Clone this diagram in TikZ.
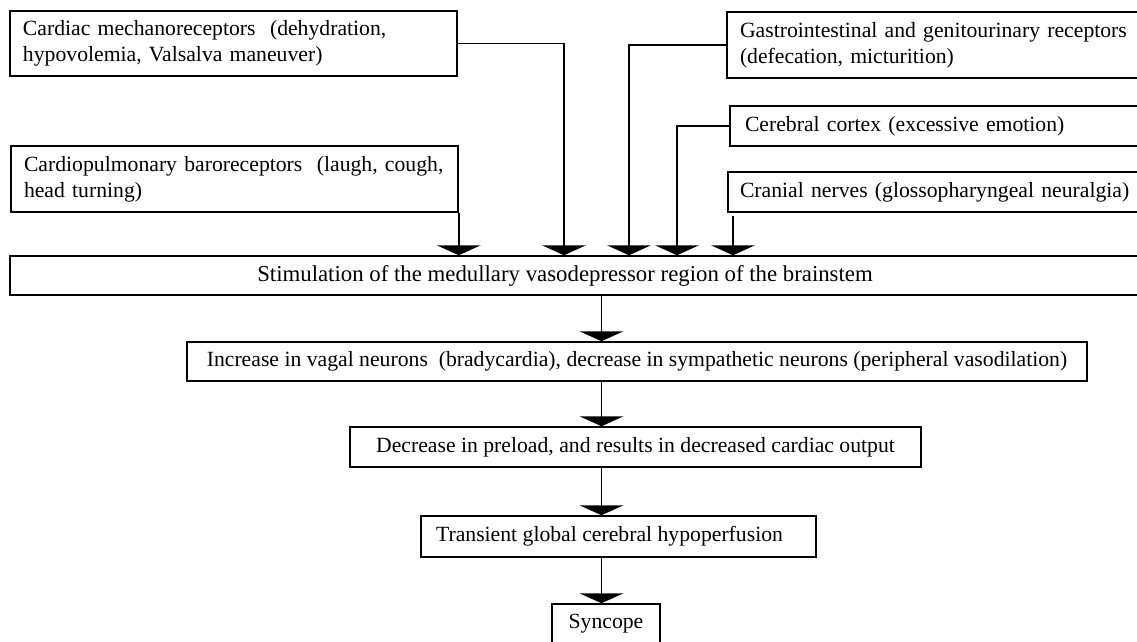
\documentclass[tikz,border=0pt]{standalone}
\usepackage{fontspec}
\setmainfont{Liberation Serif}
\usetikzlibrary{arrows.meta}
\begin{document}
\begin{tikzpicture}[x=1pt,y=-1pt,
  box/.style={draw, line width=1.5pt, inner sep=0pt, font=\fontsize{21.7}{26}\selectfont},
  lbox/.style={box, align=left, text width=#1},
  arr/.style={line width=1.5pt, -{Triangle[width=44pt,length=10pt]}}]
\useasboundingbox (0,0) rectangle (1137,642);
\clip (0,0) rectangle (1137,642);
% top left boxes
\node[lbox=421pt, inner xsep=13pt, minimum width=447pt, minimum height=65pt] (b1) at (233.5,43.5)
  {Cardiac mechanoreceptors\ \ (dehydration,\\hypovolemia, Valsalva maneuver)};
\node[lbox=421pt, inner xsep=13pt, minimum width=447pt, minimum height=66pt] (b2) at (234.5,179)
  {Cardiopulmonary baroreceptors\ \ (laugh, cough,\\head turning)};
% top right boxes
\node[lbox=397pt, inner xsep=13pt, minimum width=423pt, minimum height=66pt] (gi) at (938.5,45)
  {Gastrointestinal and genitourinary receptors\\(defecation, micturition)};
\node[lbox=390pt, inner xsep=15pt, minimum width=420pt, minimum height=40pt] (cc) at (940,126)
  {Cerebral cortex (excessive emotion)};
\node[lbox=398pt, inner xsep=12pt, minimum width=422pt, minimum height=40pt] (cn) at (939,192)
  {Cranial nerves (glossopharyngeal neuralgia)};
% chain
\node[box, minimum width=1140pt, minimum height=39pt, font=\fontsize{22.8}{26}\selectfont] (main) at (580,275.5)
  {\hspace*{-30pt}Stimulation of the medullary vasodepressor region of the brainstem};
\node[box, minimum width=900pt, minimum height=39pt] (inc) at (637,361.5)
  {Increase in vagal neurons\ \ (bradycardia), decrease in sympathetic neurons (peripheral vasodilation)};
\node[box, minimum width=571pt, minimum height=40pt] (dec) at (635.5,447)
  {Decrease in preload, and results in decreased cardiac output};
\node[box, minimum width=395pt, minimum height=41pt] (tr) at (618.5,536.5)
  {\hspace*{-18pt}Transient global cerebral hypoperfusion};
\node[box, minimum width=108pt, minimum height=40pt] (sy) at (606,624)
  {Syncope};
% drop coordinates
\coordinate (k1) at (564,0);
\coordinate (k2) at (629,0);
\coordinate (k3) at (677,0);
\coordinate (k5) at (733,0);
\coordinate (kc) at (601.5,0);
% connectors into main
\draw[arr] (b1.east) -| (main.north -| k1);
\draw[arr] (b2.south east) -- (b2.south east |- main.north);
\draw[arr] (gi.west) -| (main.north -| k2);
\draw[arr] (cc.west) -| (main.north -| k3);
\draw[arr, shorten <=3pt] (cn.south -| k5) -- (main.north -| k5);
% chain connectors
\draw[arr] (main.south -| kc) -- (inc.north -| kc);
\draw[arr] (inc.south -| kc) -- (dec.north -| kc);
\draw[arr] (dec.south -| kc) -- (tr.north -| kc);
\draw[arr] (tr.south -| kc) -- (sy.north -| kc);
\end{tikzpicture}
\end{document}
